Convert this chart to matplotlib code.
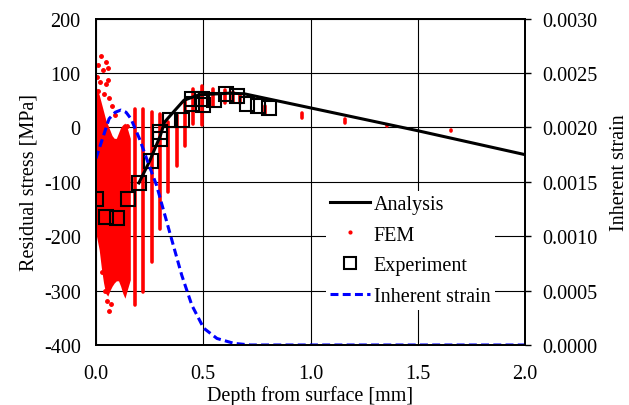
import matplotlib
matplotlib.use("Agg")
import matplotlib.pyplot as plt
from matplotlib.lines import Line2D

plt.rcParams['font.family'] = ['Liberation Serif', 'DejaVu Serif']
plt.rcParams['axes.unicode_minus'] = False
FS = 14.5

# analysis (black line), depth [mm] / stress [MPa]
ana_x = [0.20, 0.25, 0.30, 0.32, 0.36, 0.41, 0.48, 0.62, 0.69, 1.0, 1.5, 2.0]
ana_y = [-102, -62, -15, 10, 28, 50, 60, 63, 62, 36, -6, -50]

# experiment (squares)
exp_x = [0.0, 0.046, 0.10, 0.148, 0.20, 0.255, 0.297, 0.297, 0.344, 0.40, 0.447, 0.447, 0.495, 0.50, 0.552, 0.604, 0.659, 0.706, 0.755, 0.805]
exp_y = [-131, -164, -166, -131, -102, -61, -8, -22, 13, 13, 53, 44, 53, 42, 50, 62, 57, 43, 39, 35]

# inherent strain (right axis)
inh_x = [0.0, 0.03, 0.061, 0.09, 0.116, 0.14, 0.163, 0.203, 0.242, 0.282, 0.321, 0.36, 0.40, 0.447, 0.502, 0.564, 0.643, 0.72, 1.0, 1.5, 2.0]
inh_y = [0.001715, 0.001895, 0.00208, 0.00214, 0.00216, 0.00214, 0.00208, 0.001895, 0.00168, 0.00147,
         0.001195, 0.00092, 0.00064, 0.000365, 0.000155, 0.00006, 0.000015, 0.0, 0.0, 0.0, 0.0]

# FEM: dense cloud near surface, outline read as (x, low, high)
blob_x = [0.0, 0.005, 0.015, 0.025, 0.035, 0.045, 0.055, 0.065, 0.075, 0.085, 0.095, 0.105, 0.115, 0.125, 0.135, 0.145, 0.16]
blob_lo = [-195, -205, -225, -258, -285, -305, -310, -300, -292, -286, -282, -282, -292, -305, -314, -300, -280]
blob_hi = [75, 70, 60, 45, 30, 15, 5, -5, -15, -20, -20, -10, 0, 5, 8, 0, -20]

# FEM: separate columns further in
col_x = [0.182, 0.22, 0.26, 0.298, 0.337, 0.376, 0.415, 0.454, 0.493, 0.547, 0.60, 0.64, 0.67, 0.788, 0.959, 1.16, 1.357, 1.655]
col_lo = [-327, -302, -247, -186, -119, -70, -35, 7, 4, 40, 45, 47, 45, 25, 17, 8, 2, -7]
col_hi = [34, 34, 29, 25, 10, 22, 50, 70, 77, 71, 68, 65, 60, 40, 27, 15, 5, -5]

# FEM: scattered points around the cloud
dot_x = [0.023, 0.045, 0.011, 0.034, 0.054, 0.003, 0.019, 0.054, 0.045, 0.011, 0.039, 0.061, 0.073, 0.143, 0.089,
         0.06, 0.07, 0.05, 0.04, 0.028]
dot_y = [131, 121, 115, 105, 109, 93, 83, 88, 79, 67, 62, 54, 40, 3, 22,
         -338, -325, -320, -300, -265]

fig = plt.figure(figsize=(6.29, 4.06), dpi=100)
ax = fig.add_axes([0.1526, 0.1478, 0.6821, 0.8037])
ax2 = ax.twinx()

ax.fill_between(blob_x, blob_lo, blob_hi, color='#ff0000', linewidth=0, zorder=2)
ax.vlines(col_x, col_lo, col_hi, colors='#ff0000', linewidth=2.6, capstyle='round', zorder=2)
ax.plot(dot_x, dot_y, 'o', color='#ff0000', markersize=2.5, zorder=2)
ax.plot(ana_x, ana_y, color='black', linewidth=2.2, zorder=3)
ax.plot(exp_x, exp_y, 's', markersize=9.5, markerfacecolor='none', markeredgecolor='black',
        markeredgewidth=1.5, zorder=4)
ax2.plot(inh_x, inh_y, color='#0000ff', linewidth=2.2, dashes=(2.6, 1.4))

ax.set_xlim(0, 2.0)
ax.set_ylim(-400, 200)
ax.set_xticks([0.0, 0.5, 1.0, 1.5, 2.0])
ax.set_xticklabels(['0.0', '0.5', '1.0', '1.5', '2.0'])
ax.set_yticks(range(-400, 201, 100))
ax2.set_ylim(0, 0.003)
ax2.set_yticks([0, 0.0005, 0.001, 0.0015, 0.002, 0.0025, 0.003])
ax2.set_yticklabels(['%.4f' % v for v in [0, 0.0005, 0.001, 0.0015, 0.002, 0.0025, 0.003]])

ax.grid(True, color='black', linewidth=0.8)
ax.tick_params(axis='both', length=0, labelsize=FS)
ax.tick_params(axis='x', pad=14)
ax.tick_params(axis='y', pad=11)
ax2.tick_params(axis='y', length=4.5, width=1.0, direction='out', labelsize=FS, pad=8)
for a in (ax, ax2):
    for s in a.spines.values():
        s.set_linewidth(1.3)

ax.set_xlabel('Depth from surface [mm]', fontsize=FS, labelpad=1)
ax.set_ylabel('Residual stress [MPa]', fontsize=FS, labelpad=4)
ax2.set_ylabel('Inherent strain', fontsize=FS)
ax2.yaxis.set_label_coords(1.198, 0.53)

handles = [Line2D([], [], color='black', linewidth=2.2),
           Line2D([], [], marker='o', linestyle='none', color='#ff0000', markersize=2),
           Line2D([], [], marker='s', linestyle='none', markersize=9, markerfacecolor='none',
                  markeredgecolor='black', markeredgewidth=1.5),
           Line2D([], [], color='#0000ff', linewidth=2.2, dashes=(2.6, 1.4))]
labels = ['Analysis', 'FEM', 'Experiment', 'Inherent strain']
leg = ax2.legend(handles, labels, loc='center', bbox_to_anchor=(0.732, 0.29), fontsize=FS,
                 frameon=True, fancybox=False, borderpad=0.2, labelspacing=0.58,
                 handlelength=2.0, handletextpad=0.2)
leg.get_frame().set_edgecolor('none')
leg.get_frame().set_facecolor('white')
leg.get_frame().set_alpha(1)

fig.savefig('out.png', dpi=100)
